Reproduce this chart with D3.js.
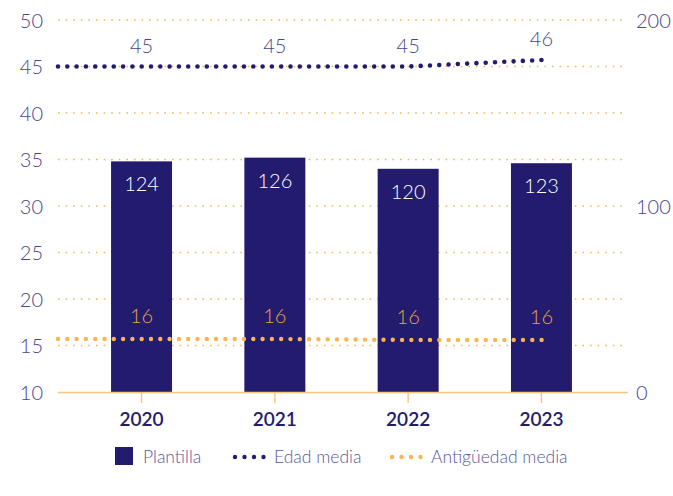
<!DOCTYPE html>
<html>
<head>
<meta charset="utf-8">
<script src="https://cdn.jsdelivr.net/npm/d3@7"></script>
<style>
  html, body { margin: 0; padding: 0; background: #fff; }
  svg { display: block; font-family: Lato, "Open Sans", sans-serif; }
</style>
</head>
<body>
<svg id="chart" width="673" height="496"></svg>
<script>
const years = ["2020", "2021", "2022", "2023"];
const plantilla = [124, 126, 120, 123];
const edadMedia = [45, 45, 45, 45.7];
const antiguedadMedia = [15.7, 15.7, 15.6, 15.6];
const leftTicks = [10, 15, 20, 25, 30, 35, 40, 45, 50];
const rightTicks = [0, 100, 200];
const legendLabels = ["Plantilla", "Edad media", "Antigüedad media"];

(function () {
const navy = "#231c6e";
const orange = "#fbb44f";
const orangeText = "#eda140";
const axisText = "#484490";
const legendText = "#5a569e";

const svg = d3.select("#chart");
const pLeft = 58, pRight = 625, pTop = 20, pBottom = 392;

const x = d3.scaleBand().domain(years).range([pLeft, pRight]).paddingInner(0.5425).paddingOuter(0.398);
const yL = d3.scaleLinear().domain([10, 50]).range([pBottom, pTop]);
const yR = d3.scaleLinear().domain([0, 200]).range([pBottom, pTop]);
const cx = d => x(d) + x.bandwidth() / 2;

// gridlines
svg.append("g").selectAll("line").data(leftTicks.filter(t => t > 10)).join("line")
  .attr("x1", pLeft).attr("x2", 622)
  .attr("y1", d => yL(d)).attr("y2", d => yL(d))
  .attr("stroke", orange).attr("stroke-width", 1.6)
  .attr("stroke-dasharray", "1.6,6");

// bars
svg.append("g").selectAll("rect").data(years).join("rect")
  .attr("x", d => x(d)).attr("width", x.bandwidth())
  .attr("y", (d, i) => yR(plantilla[i]))
  .attr("height", (d, i) => pBottom - yR(plantilla[i]))
  .attr("fill", navy);

svg.append("g").selectAll("text").data(years).join("text")
  .attr("x", d => cx(d)).attr("y", (d, i) => yR(plantilla[i]) + 30)
  .attr("text-anchor", "middle").attr("fill", "#fff").attr("font-weight", 300)
  .attr("font-size", 20).text((d, i) => plantilla[i]);

// baseline
svg.append("line").attr("x1", pLeft).attr("x2", 628).attr("y1", pBottom + 0.5).attr("y2", pBottom + 0.5)
  .attr("stroke", "#f8c37c").attr("stroke-width", 1.6);
svg.append("g").selectAll("line").data(years).join("line")
  .attr("x1", d => cx(d)).attr("x2", d => cx(d))
  .attr("y1", pBottom).attr("y2", pBottom + 11)
  .attr("stroke", "#f8c37c").attr("stroke-width", 1.4);

// x labels
svg.append("g").selectAll("text").data(years).join("text")
  .attr("x", d => cx(d)).attr("y", 426)
  .attr("text-anchor", "middle").attr("fill", navy)
  .attr("font-size", 19).attr("font-weight", 600).text(d => d);

// left axis labels
svg.append("g").selectAll("text").data(leftTicks).join("text")
  .attr("x", 43).attr("y", d => yL(d) + 7.5)
  .attr("text-anchor", "end").attr("fill", axisText).attr("font-weight", 300)
  .attr("font-size", 20).text(d => d);

// right axis labels
svg.append("g").selectAll("text").data(rightTicks).join("text")
  .attr("x", 636).attr("y", d => yR(d) + 7.5)
  .attr("text-anchor", "start").attr("fill", axisText).attr("font-weight", 300)
  .attr("font-size", 20).text(d => d);

// lines
function seriesPoints(vals) {
  const n = years.length;
  return [[pLeft, vals[0]]]
    .concat(years.map((y, i) => [cx(y), vals[i]]))
    .concat([[cx(years[n - 1]) + x.bandwidth() * 0.09, vals[n - 1]]]);
}
const line = d3.line().x(d => d[0]).y(d => yL(d[1]));

svg.append("path").attr("d", line(seriesPoints(antiguedadMedia)))
  .attr("fill", "none").attr("stroke", orange).attr("stroke-width", 4.4)
  .attr("stroke-linecap", "round").attr("stroke-dasharray", "0,9.3");

svg.append("path").attr("d", line(seriesPoints(edadMedia)))
  .attr("fill", "none").attr("stroke", navy).attr("stroke-width", 4.6)
  .attr("stroke-linecap", "round").attr("stroke-dasharray", "0,9.3");

// line labels
svg.append("g").selectAll("text").data(years).join("text")
  .attr("x", d => cx(d)).attr("y", (d, i) => yL(edadMedia[i]) - 14)
  .attr("text-anchor", "middle").attr("fill", axisText).attr("font-weight", 300)
  .attr("font-size", 20).text((d, i) => Math.round(edadMedia[i]));

svg.append("g").selectAll("text").data(years).join("text")
  .attr("x", d => cx(d)).attr("y", (d, i) => yL(antiguedadMedia[i]) - 15.5)
  .attr("text-anchor", "middle").attr("fill", orangeText).attr("font-weight", 300)
  .attr("font-size", 20).text((d, i) => Math.round(antiguedadMedia[i]));

// legend
const ly = 456;
const fs = 17.5;
const lg = svg.append("g");
lg.append("rect").attr("x", 115).attr("y", ly - 9).attr("width", 18).attr("height", 18).attr("fill", navy);
lg.append("text").attr("x", 143).attr("y", ly + 6.5).attr("fill", legendText).attr("font-weight", 300).attr("font-size", fs).text(legendLabels[0]);
lg.append("g").selectAll("circle").data(d3.range(4)).join("circle")
  .attr("cx", d => 235 + d * 9.5).attr("cy", ly + 1).attr("r", 2.2).attr("fill", navy);
lg.append("text").attr("x", 274).attr("y", ly + 6.5).attr("fill", legendText).attr("font-weight", 300).attr("font-size", fs).text(legendLabels[1]);
lg.append("g").selectAll("circle").data(d3.range(4)).join("circle")
  .attr("cx", d => 392 + d * 9.5).attr("cy", ly + 1).attr("r", 2.2).attr("fill", orange);
lg.append("text").attr("x", 431).attr("y", ly + 6.5).attr("fill", legendText).attr("font-weight", 300).attr("font-size", fs).text(legendLabels[2]);
})();
</script>
</body>
</html>
